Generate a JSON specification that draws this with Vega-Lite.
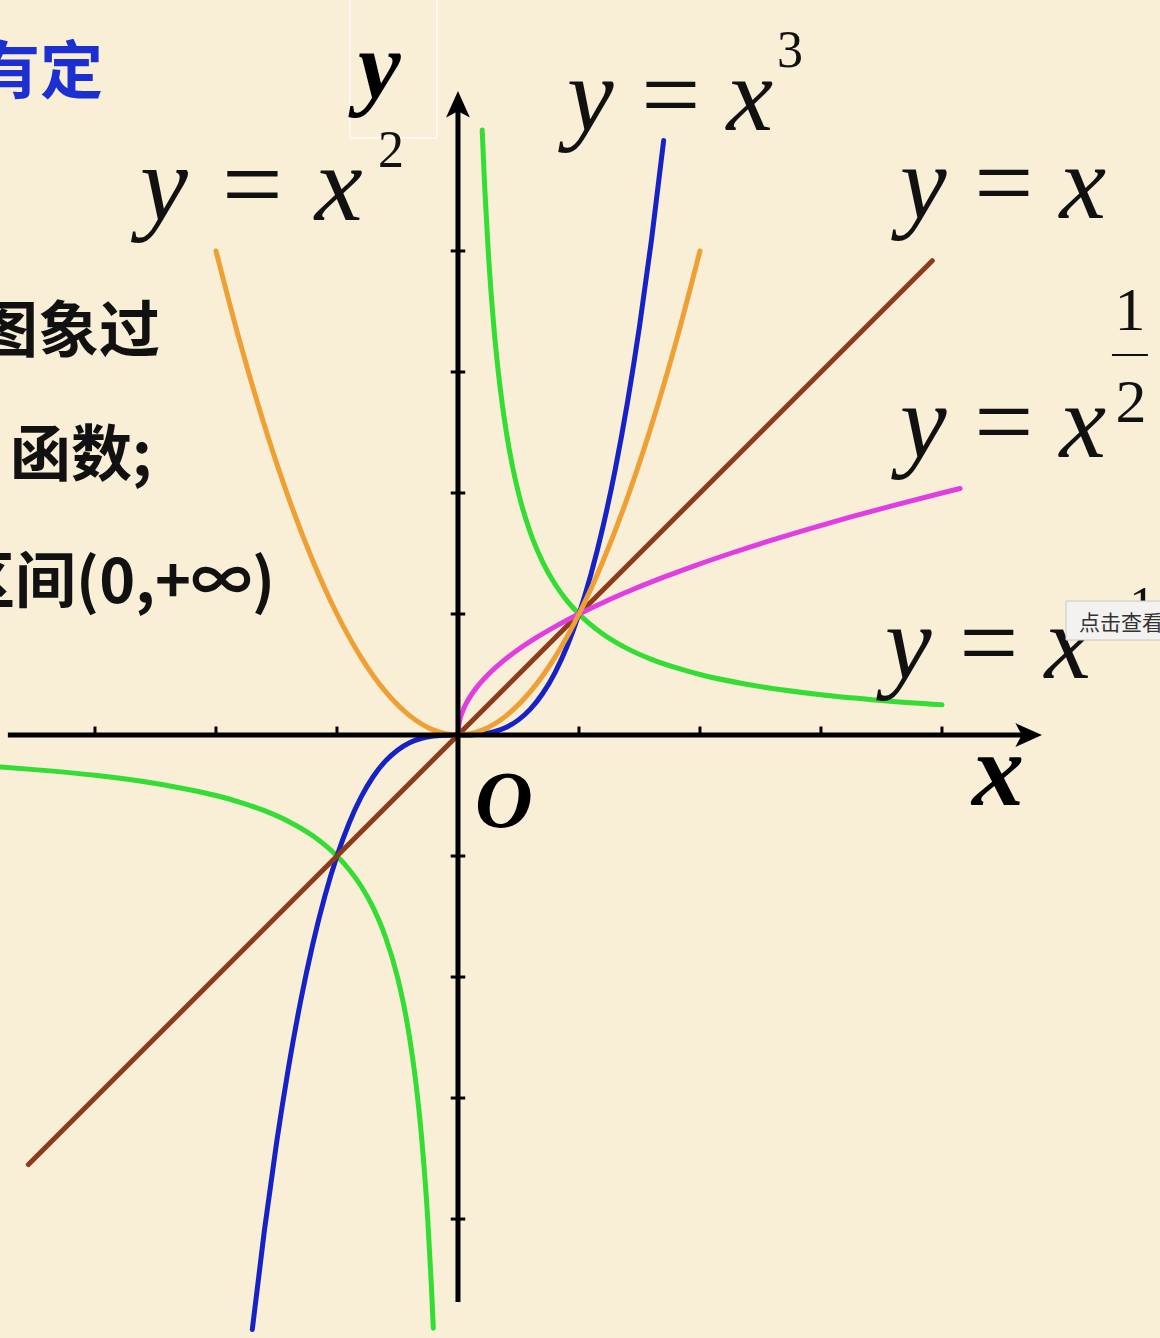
{
  "$schema": "https://vega.github.io/schema/vega-lite/v6.json",
  "width": 1160,
  "height": 1338,
  "autosize": {"type": "none"},
  "padding": 0,
  "background": "#f9eed6",
  "config": {"view": {"stroke": null}},
  "encoding": {
    "x": {"field": "x", "type": "quantitative", "scale": {"domain": [-3.785, 5.802], "nice": false, "zero": false}, "axis": null},
    "y": {"field": "y", "type": "quantitative", "scale": {"domain": [-4.983, 6.074], "nice": false, "zero": false}, "axis": null}
  },
  "layer": [
    {
      "data": {"values": [{"x": -0.893, "x2": -0.174, "y": 4.934, "y2": 6.1}]},
      "mark": {"type": "rect", "filled": false, "stroke": "#ffffff", "strokeWidth": 1.5, "opacity": 0.8},
      "encoding": {"x2": {"field": "x2"}, "y2": {"field": "y2"}}
    },
    {
      "data": {"values": [
        {"c": "inv_neg", "x": -3.8, "y": -0.263},
        {"c": "inv_neg", "x": -3.5, "y": -0.286},
        {"c": "inv_neg", "x": -3.0, "y": -0.333},
        {"c": "inv_neg", "x": -2.5, "y": -0.4},
        {"c": "inv_neg", "x": -2.0, "y": -0.5},
        {"c": "inv_neg", "x": -1.8, "y": -0.556},
        {"c": "inv_neg", "x": -1.6, "y": -0.625},
        {"c": "inv_neg", "x": -1.4, "y": -0.714},
        {"c": "inv_neg", "x": -1.2, "y": -0.833},
        {"c": "inv_neg", "x": -1.0, "y": -1.0},
        {"c": "inv_neg", "x": -0.9, "y": -1.111},
        {"c": "inv_neg", "x": -0.8, "y": -1.25},
        {"c": "inv_neg", "x": -0.7, "y": -1.429},
        {"c": "inv_neg", "x": -0.6, "y": -1.667},
        {"c": "inv_neg", "x": -0.5, "y": -2.0},
        {"c": "inv_neg", "x": -0.45, "y": -2.222},
        {"c": "inv_neg", "x": -0.4, "y": -2.5},
        {"c": "inv_neg", "x": -0.35, "y": -2.857},
        {"c": "inv_neg", "x": -0.3, "y": -3.333},
        {"c": "inv_neg", "x": -0.25, "y": -4.0},
        {"c": "inv_neg", "x": -0.22, "y": -4.545},
        {"c": "inv_neg", "x": -0.204, "y": -4.902},
        {"c": "inv_pos", "x": 0.2, "y": 5.0},
        {"c": "inv_pos", "x": 0.22, "y": 4.545},
        {"c": "inv_pos", "x": 0.25, "y": 4.0},
        {"c": "inv_pos", "x": 0.3, "y": 3.333},
        {"c": "inv_pos", "x": 0.35, "y": 2.857},
        {"c": "inv_pos", "x": 0.4, "y": 2.5},
        {"c": "inv_pos", "x": 0.45, "y": 2.222},
        {"c": "inv_pos", "x": 0.5, "y": 2.0},
        {"c": "inv_pos", "x": 0.6, "y": 1.667},
        {"c": "inv_pos", "x": 0.7, "y": 1.429},
        {"c": "inv_pos", "x": 0.8, "y": 1.25},
        {"c": "inv_pos", "x": 0.9, "y": 1.111},
        {"c": "inv_pos", "x": 1.0, "y": 1.0},
        {"c": "inv_pos", "x": 1.2, "y": 0.833},
        {"c": "inv_pos", "x": 1.4, "y": 0.714},
        {"c": "inv_pos", "x": 1.6, "y": 0.625},
        {"c": "inv_pos", "x": 1.8, "y": 0.556},
        {"c": "inv_pos", "x": 2.0, "y": 0.5},
        {"c": "inv_pos", "x": 2.5, "y": 0.4},
        {"c": "inv_pos", "x": 3.0, "y": 0.333},
        {"c": "inv_pos", "x": 3.5, "y": 0.286},
        {"c": "inv_pos", "x": 4.0, "y": 0.25},
        {"c": "cube", "x": -1.7, "y": -4.913},
        {"c": "cube", "x": -1.6, "y": -4.096},
        {"c": "cube", "x": -1.5, "y": -3.375},
        {"c": "cube", "x": -1.4, "y": -2.744},
        {"c": "cube", "x": -1.3, "y": -2.197},
        {"c": "cube", "x": -1.2, "y": -1.728},
        {"c": "cube", "x": -1.1, "y": -1.331},
        {"c": "cube", "x": -1.0, "y": -1.0},
        {"c": "cube", "x": -0.9, "y": -0.729},
        {"c": "cube", "x": -0.8, "y": -0.512},
        {"c": "cube", "x": -0.7, "y": -0.343},
        {"c": "cube", "x": -0.6, "y": -0.216},
        {"c": "cube", "x": -0.5, "y": -0.125},
        {"c": "cube", "x": -0.4, "y": -0.064},
        {"c": "cube", "x": -0.3, "y": -0.027},
        {"c": "cube", "x": -0.2, "y": -0.008},
        {"c": "cube", "x": -0.1, "y": -0.001},
        {"c": "cube", "x": 0.0, "y": 0.0},
        {"c": "cube", "x": 0.1, "y": 0.001},
        {"c": "cube", "x": 0.2, "y": 0.008},
        {"c": "cube", "x": 0.3, "y": 0.027},
        {"c": "cube", "x": 0.4, "y": 0.064},
        {"c": "cube", "x": 0.5, "y": 0.125},
        {"c": "cube", "x": 0.6, "y": 0.216},
        {"c": "cube", "x": 0.7, "y": 0.343},
        {"c": "cube", "x": 0.8, "y": 0.512},
        {"c": "cube", "x": 0.9, "y": 0.729},
        {"c": "cube", "x": 1.0, "y": 1.0},
        {"c": "cube", "x": 1.1, "y": 1.331},
        {"c": "cube", "x": 1.2, "y": 1.728},
        {"c": "cube", "x": 1.3, "y": 2.197},
        {"c": "cube", "x": 1.4, "y": 2.744},
        {"c": "cube", "x": 1.5, "y": 3.375},
        {"c": "cube", "x": 1.6, "y": 4.096},
        {"c": "cube", "x": 1.7, "y": 4.913},
        {"c": "lin", "x": -3.55, "y": -3.55},
        {"c": "lin", "x": 3.92, "y": 3.92},
        {"c": "sqrt", "x": 0.0, "y": 0.0},
        {"c": "sqrt", "x": 0.01, "y": 0.1},
        {"c": "sqrt", "x": 0.04, "y": 0.2},
        {"c": "sqrt", "x": 0.09, "y": 0.3},
        {"c": "sqrt", "x": 0.16, "y": 0.4},
        {"c": "sqrt", "x": 0.25, "y": 0.5},
        {"c": "sqrt", "x": 0.36, "y": 0.6},
        {"c": "sqrt", "x": 0.49, "y": 0.7},
        {"c": "sqrt", "x": 0.64, "y": 0.8},
        {"c": "sqrt", "x": 0.81, "y": 0.9},
        {"c": "sqrt", "x": 1.0, "y": 1.0},
        {"c": "sqrt", "x": 1.21, "y": 1.1},
        {"c": "sqrt", "x": 1.44, "y": 1.2},
        {"c": "sqrt", "x": 1.69, "y": 1.3},
        {"c": "sqrt", "x": 1.96, "y": 1.4},
        {"c": "sqrt", "x": 2.25, "y": 1.5},
        {"c": "sqrt", "x": 2.56, "y": 1.6},
        {"c": "sqrt", "x": 2.89, "y": 1.7},
        {"c": "sqrt", "x": 3.24, "y": 1.8},
        {"c": "sqrt", "x": 3.61, "y": 1.9},
        {"c": "sqrt", "x": 4.0, "y": 2.0},
        {"c": "sqrt", "x": 4.15, "y": 2.037},
        {"c": "sq", "x": -2.0, "y": 4.0},
        {"c": "sq", "x": -1.8, "y": 3.24},
        {"c": "sq", "x": -1.6, "y": 2.56},
        {"c": "sq", "x": -1.4, "y": 1.96},
        {"c": "sq", "x": -1.2, "y": 1.44},
        {"c": "sq", "x": -1.0, "y": 1.0},
        {"c": "sq", "x": -0.8, "y": 0.64},
        {"c": "sq", "x": -0.6, "y": 0.36},
        {"c": "sq", "x": -0.4, "y": 0.16},
        {"c": "sq", "x": -0.2, "y": 0.04},
        {"c": "sq", "x": 0.0, "y": 0.0},
        {"c": "sq", "x": 0.2, "y": 0.04},
        {"c": "sq", "x": 0.4, "y": 0.16},
        {"c": "sq", "x": 0.6, "y": 0.36},
        {"c": "sq", "x": 0.8, "y": 0.64},
        {"c": "sq", "x": 1.0, "y": 1.0},
        {"c": "sq", "x": 1.2, "y": 1.44},
        {"c": "sq", "x": 1.4, "y": 1.96},
        {"c": "sq", "x": 1.6, "y": 2.56},
        {"c": "sq", "x": 1.8, "y": 3.24},
        {"c": "sq", "x": 2.0, "y": 4.0}
      ]},
      "mark": {"type": "line", "interpolate": "monotone", "strokeWidth": 5, "strokeCap": "round"},
      "encoding": {
        "color": {"field": "c", "type": "nominal", "legend": null,
          "scale": {"domain": ["inv_neg", "inv_pos", "cube", "lin", "sqrt", "sq"],
                    "range": ["#33dd33", "#33dd33", "#1622c6", "#8c3c1a", "#e03ee0", "#eea034"]}}
      }
    },
    {
      "data": {"values": [
        {"x": -3.72, "y": 0, "x2": 4.75, "y2": 0},
        {"x": 0, "y": -4.686, "x2": 0, "y2": 5.165}
      ]},
      "mark": {"type": "rule", "color": "#000000", "strokeWidth": 5},
      "encoding": {"x2": {"field": "x2"}, "y2": {"field": "y2"}}
    },
    {
      "data": {"values": [
        {"x": -3, "y": 0, "x2": -3, "y2": 0.07},
        {"x": -2, "y": 0, "x2": -2, "y2": 0.07},
        {"x": -1, "y": 0, "x2": -1, "y2": 0.07},
        {"x": 1, "y": 0, "x2": 1, "y2": 0.07},
        {"x": 2, "y": 0, "x2": 2, "y2": 0.07},
        {"x": 3, "y": 0, "x2": 3, "y2": 0.07},
        {"x": 4, "y": 0, "x2": 4, "y2": 0.07},
        {"x": -0.06, "y": 4, "x2": 0.06, "y2": 4},
        {"x": -0.06, "y": 3, "x2": 0.06, "y2": 3},
        {"x": -0.06, "y": 2, "x2": 0.06, "y2": 2},
        {"x": -0.06, "y": 1, "x2": 0.06, "y2": 1},
        {"x": -0.06, "y": -1, "x2": 0.06, "y2": -1},
        {"x": -0.06, "y": -2, "x2": 0.06, "y2": -2},
        {"x": -0.06, "y": -3, "x2": 0.06, "y2": -3},
        {"x": -0.06, "y": -4, "x2": 0.06, "y2": -4}
      ]},
      "mark": {"type": "rule", "color": "#000000", "strokeWidth": 3},
      "encoding": {"x2": {"field": "x2"}, "y2": {"field": "y2"}}
    },
    {
      "data": {"values": [{"x": 4.711, "y": 0}]},
      "mark": {"type": "point", "filled": true, "color": "#000000", "opacity": 1, "size": 784,
               "shape": "M1,0 L-0.9,-0.85 L-0.45,0 L-0.9,0.85 Z"}
    },
    {
      "data": {"values": [{"x": 0, "y": 5.207}]},
      "mark": {"type": "point", "filled": true, "color": "#000000", "opacity": 1, "size": 784,
               "shape": "M0,-1 L-0.85,0.9 L0,0.45 L0.85,0.9 Z"}
    },
    {
      "data": {"values": [{"x": 5.405, "y": 3.14, "x2": 5.702, "y2": 3.14}]},
      "mark": {"type": "rule", "color": "#111111", "strokeWidth": 2},
      "encoding": {"x2": {"field": "x2"}, "y2": {"field": "y2"}}
    },
    {
      "data": {"values": [
        {"x": -2.628, "y": 4.256, "t": "y = x"}
      ]},
      "mark": {"type": "text", "font": "Liberation Serif", "fontStyle": "italic", "fontSize": 108,
               "align": "left", "baseline": "alphabetic", "color": "#111111"},
      "encoding": {"text": {"field": "t"}}
    },
    {
      "data": {"values": [
        {"x": 0.901, "y": 5.0, "t": "y\u2009=\u2009x"},
        {"x": 3.653, "y": 4.273, "t": "y\u2009=\u2009x"},
        {"x": 3.653, "y": 2.298, "t": "y\u2009=\u2009x"},
        {"x": 3.529, "y": 0.471, "t": "y\u2009=\u2009x"}
      ]},
      "mark": {"type": "text", "font": "Liberation Serif", "fontStyle": "italic", "fontSize": 105,
               "align": "left", "baseline": "alphabetic", "color": "#111111"},
      "encoding": {"text": {"field": "t"}}
    },
    {
      "data": {"values": [
        {"x": -0.661, "y": 4.694, "t": "2"},
        {"x": 2.636, "y": 5.521, "t": "3"},
        {"x": 5.306, "y": 0.926, "t": "−1"}
      ]},
      "mark": {"type": "text", "font": "Liberation Serif", "fontSize": 52,
               "align": "left", "baseline": "alphabetic", "color": "#111111"},
      "encoding": {"text": {"field": "t"}}
    },
    {
      "data": {"values": [
        {"x": 5.554, "y": 3.347, "t": "1"},
        {"x": 5.562, "y": 2.587, "t": "2"}
      ]},
      "mark": {"type": "text", "font": "Liberation Serif", "fontSize": 62,
               "align": "center", "baseline": "alphabetic", "color": "#111111"},
      "encoding": {"text": {"field": "t"}}
    },
    {
      "data": {"values": [{"x": 0.14, "y": -0.76, "t": "O"}]},
      "mark": {"type": "text", "font": "Liberation Serif", "fontStyle": "italic", "fontWeight": "bold", "fontSize": 80,
               "align": "left", "baseline": "alphabetic", "color": "#000000"},
      "encoding": {"text": {"field": "t"}}
    },
    {
      "data": {"values": [{"x": 4.248, "y": -0.579, "t": "x"}]},
      "mark": {"type": "text", "font": "Liberation Serif", "fontStyle": "italic", "fontWeight": "bold", "fontSize": 104,
               "align": "left", "baseline": "alphabetic", "color": "#000000"},
      "encoding": {"text": {"field": "t"}}
    },
    {
      "data": {"values": [{"x": -0.826, "y": 5.264, "t": "y"}]},
      "mark": {"type": "text", "font": "Liberation Serif", "fontStyle": "italic", "fontWeight": "bold", "fontSize": 96,
               "align": "left", "baseline": "alphabetic", "color": "#000000"},
      "encoding": {"text": {"field": "t"}}
    },
    {
      "data": {"values": [{"x": -2.934, "y": 5.306, "t": "有定"}]},
      "mark": {"type": "text", "font": "Noto Sans CJK SC", "fontWeight": "bold", "fontSize": 63,
               "align": "right", "baseline": "alphabetic", "color": "#1c2fd0"},
      "encoding": {"text": {"field": "t"}}
    },
    {
      "data": {"values": [
        {"x": -2.463, "y": 3.165, "t": "图象过"},
        {"x": -1.512, "y": 1.091, "t": "区间(0,+∞)"}
      ]},
      "mark": {"type": "text", "font": "Noto Sans CJK SC", "fontWeight": "bold", "fontSize": 61,
               "align": "right", "baseline": "alphabetic", "color": "#111111"},
      "encoding": {"text": {"field": "t"}}
    },
    {
      "data": {"values": [{"x": -3.702, "y": 2.14, "t": "函数;"}]},
      "mark": {"type": "text", "font": "Noto Sans CJK SC", "fontWeight": "bold", "fontSize": 61,
               "align": "left", "baseline": "alphabetic", "color": "#111111"},
      "encoding": {"text": {"field": "t"}}
    },
    {
      "data": {"values": [{"x": 5.025, "x2": 5.95, "y": 1.107, "y2": 0.785}]},
      "mark": {"type": "rect", "fill": "#f3f2f0", "stroke": "#c8c8c8", "strokeWidth": 1},
      "encoding": {"x2": {"field": "x2"}, "y2": {"field": "y2"}}
    },
    {
      "data": {"values": [{"x": 5.132, "y": 0.868, "t": "点击查看"}]},
      "mark": {"type": "text", "font": "Noto Sans CJK SC", "fontSize": 21,
               "align": "left", "baseline": "alphabetic", "color": "#333333"},
      "encoding": {"text": {"field": "t"}}
    }
  ]
}
